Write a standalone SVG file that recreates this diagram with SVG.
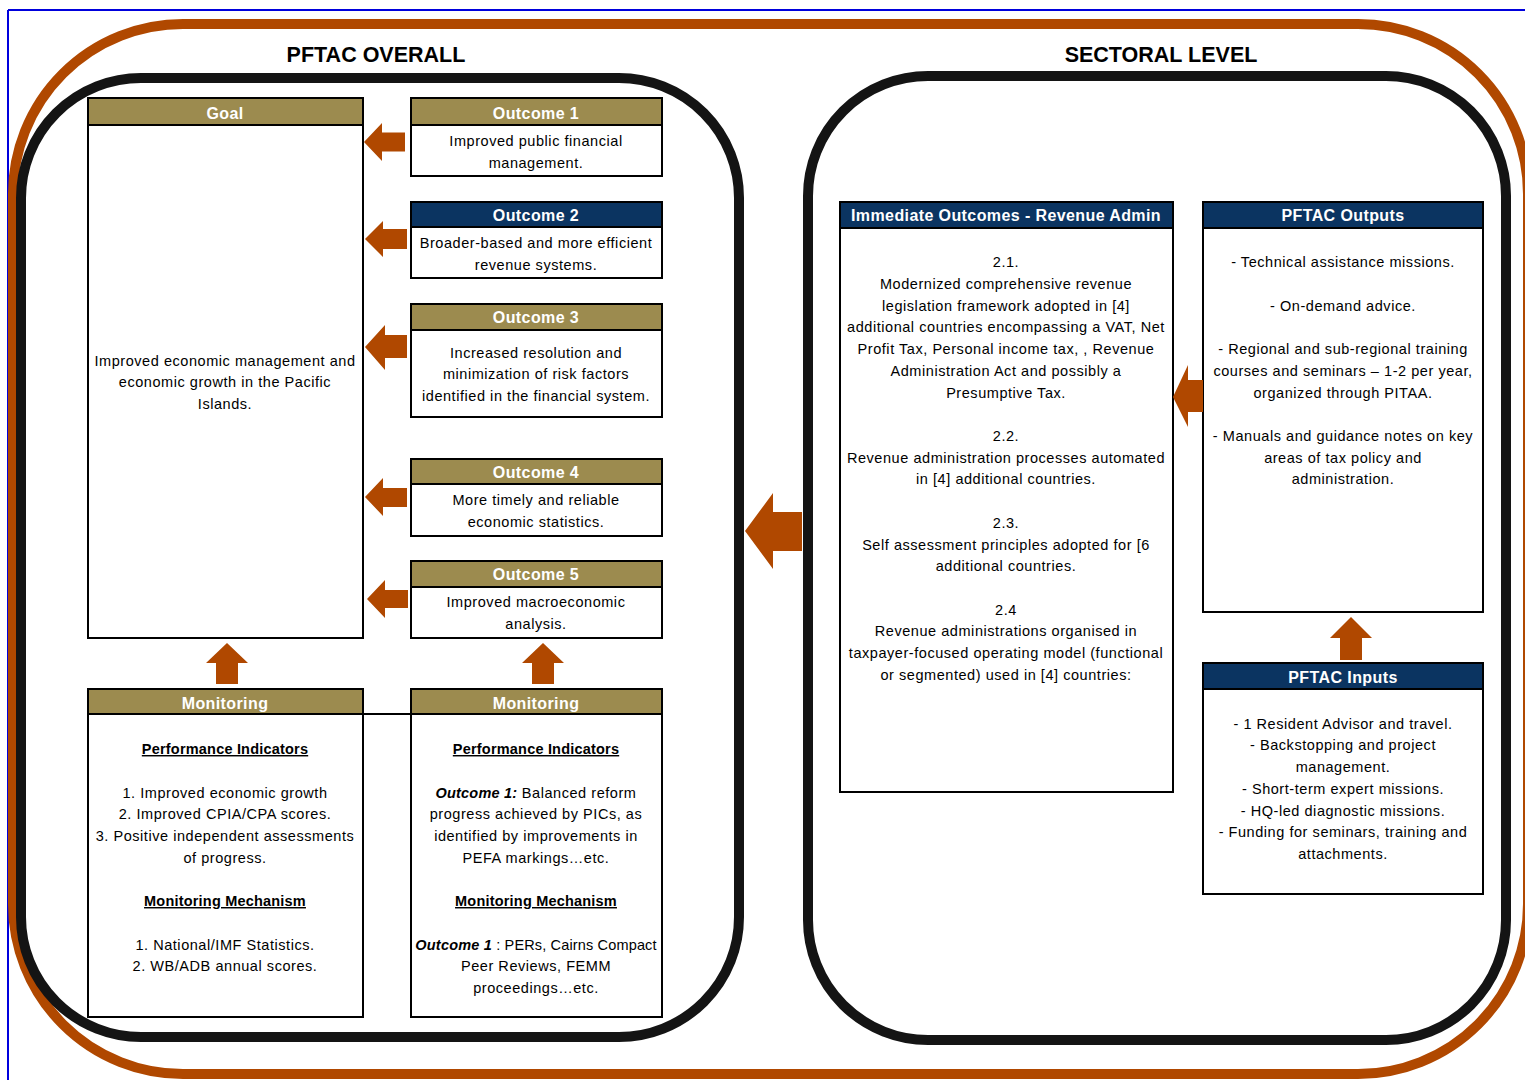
<svg xmlns="http://www.w3.org/2000/svg" width="1525" height="1080" viewBox="0 0 1525 1080">
<style>
.frame{fill:none;stroke:#0000dd;stroke-width:2}
.outer{fill:none;stroke:#b04800;stroke-width:10}
.inner{fill:none;stroke:#141414;stroke-width:10}
.box{fill:#ffffff;stroke:#000;stroke-width:2}
.olive{fill:#9c8b4f;stroke:#000;stroke-width:2}
.navy{fill:#0b3461;stroke:#000;stroke-width:2}
.arrow{fill:#b04800}
.title{font-family:"Liberation Sans",Arial,sans-serif;font-weight:bold;font-size:21.5px;fill:#000;text-anchor:middle}
.hd{font-family:"Liberation Sans",Arial,sans-serif;font-weight:bold;font-size:16px;letter-spacing:0.4px;fill:#fff;text-anchor:middle}
.t{font-family:"Liberation Sans",Arial,sans-serif;font-size:14.5px;letter-spacing:0.55px;fill:#000;text-anchor:middle}
.u{font-weight:bold;text-decoration:underline;letter-spacing:0.2px}
.bi{font-weight:bold;font-style:italic;letter-spacing:0.2px}
.tight{letter-spacing:0.15px}
</style>
<g id="background">
<line class="frame" x1="8" y1="10" x2="1525" y2="10"/>
<line class="frame" x1="8" y1="10" x2="8" y2="1080"/>
<rect class="outer" x="13" y="24" width="1515" height="1050" rx="170" ry="170"/>
<rect class="inner" x="21" y="78" width="718" height="959" rx="120" ry="120"/>
<rect class="inner" x="808" y="76" width="698" height="964" rx="120" ry="120"/>
<text class="title" x="376" y="62">PFTAC OVERALL</text>
<text class="title" x="1161" y="62">SECTORAL LEVEL</text>
</g>
<g id="goal">
<rect class="box" x="88" y="98" width="275" height="540"/>
<rect class="olive" x="88" y="98" width="275" height="27"/>
<text class="hd" x="225" y="119">Goal</text>
<text class="t" x="225" y="366">Improved economic management and</text>
<text class="t" x="225" y="387">economic growth in the Pacific</text>
<text class="t" x="225" y="409">Islands.</text>
</g>
<g id="outcome1">
<rect class="box" x="411" y="98" width="251" height="78"/>
<rect class="olive" x="411" y="98" width="251" height="27"/>
<text class="hd" x="536" y="119">Outcome 1</text>
<text class="t" x="536" y="146">Improved public financial</text>
<text class="t" x="536" y="168">management.</text>
</g>
<g id="outcome2">
<rect class="box" x="411" y="202" width="251" height="76"/>
<rect class="navy" x="411" y="202" width="251" height="25"/>
<text class="hd" x="536" y="221">Outcome 2</text>
<text class="t" x="536" y="248">Broader-based and more efficient</text>
<text class="t" x="536" y="270">revenue systems.</text>
</g>
<g id="outcome3">
<rect class="box" x="411" y="304" width="251" height="113"/>
<rect class="olive" x="411" y="304" width="251" height="26"/>
<text class="hd" x="536" y="323">Outcome 3</text>
<text class="t" x="536" y="358">Increased resolution and</text>
<text class="t" x="536" y="379">minimization of risk factors</text>
<text class="t" x="536" y="401">identified in the financial system.</text>
</g>
<g id="outcome4">
<rect class="box" x="411" y="459" width="251" height="77"/>
<rect class="olive" x="411" y="459" width="251" height="25"/>
<text class="hd" x="536" y="478">Outcome 4</text>
<text class="t" x="536" y="505">More timely and reliable</text>
<text class="t" x="536" y="527">economic statistics.</text>
</g>
<g id="outcome5">
<rect class="box" x="411" y="561" width="251" height="77"/>
<rect class="olive" x="411" y="561" width="251" height="26"/>
<text class="hd" x="536" y="580">Outcome 5</text>
<text class="t" x="536" y="607">Improved macroeconomic</text>
<text class="t" x="536" y="629">analysis.</text>
</g>
<g id="monitoring1">
<rect class="box" x="88" y="689" width="275" height="328"/>
<rect class="olive" x="88" y="689" width="275" height="25"/>
<text class="hd" x="225" y="709">Monitoring</text>
<text class="t u" x="225" y="754">Performance Indicators</text>
<text class="t" x="225" y="798">1. Improved economic growth</text>
<text class="t" x="225" y="819">2. Improved CPIA/CPA scores.</text>
<text class="t" x="225" y="841">3. Positive independent assessments</text>
<text class="t" x="225" y="863">of progress.</text>
<text class="t u" x="225" y="906">Monitoring Mechanism</text>
<text class="t" x="225" y="950">1. National/IMF Statistics.</text>
<text class="t" x="225" y="971">2. WB/ADB annual scores.</text>
</g>
<g id="monitoring2">
<rect class="box" x="411" y="689" width="251" height="328"/>
<rect class="olive" x="411" y="689" width="251" height="25"/>
<text class="hd" x="536" y="709">Monitoring</text>
<text class="t u" x="536" y="754">Performance Indicators</text>
<text class="t" x="536" y="798"><tspan class="bi">Outcome 1:</tspan>  Balanced reform</text>
<text class="t" x="536" y="819">progress achieved by PICs, as</text>
<text class="t" x="536" y="841">identified by improvements in</text>
<text class="t" x="536" y="863">PEFA markings…etc.</text>
<text class="t u" x="536" y="906">Monitoring Mechanism</text>
<text class="t tight" x="536" y="950"><tspan class="bi">Outcome 1</tspan> : PERs, Cairns Compact</text>
<text class="t" x="536" y="971">Peer Reviews, FEMM</text>
<text class="t" x="536" y="993">proceedings…etc.</text>
</g>
<g id="immediate">
<rect class="box" x="840" y="202" width="333" height="590"/>
<rect class="navy" x="840" y="202" width="333" height="26"/>
<text class="hd" x="1006" y="221">Immediate Outcomes - Revenue Admin</text>
<text class="t" x="1006" y="267">2.1.</text>
<text class="t" x="1006" y="289">Modernized comprehensive revenue</text>
<text class="t" x="1006" y="311">legislation framework adopted in [4]</text>
<text class="t" x="1006" y="332">additional countries  encompassing a VAT, Net</text>
<text class="t" x="1006" y="354">Profit Tax, Personal income tax, , Revenue</text>
<text class="t" x="1006" y="376">Administration Act and possibly a</text>
<text class="t" x="1006" y="398">Presumptive Tax.</text>
<text class="t" x="1006" y="441">2.2.</text>
<text class="t" x="1006" y="463">Revenue administration processes automated</text>
<text class="t" x="1006" y="484">in [4] additional countries.</text>
<text class="t" x="1006" y="528">2.3.</text>
<text class="t" x="1006" y="550">Self assessment principles adopted for [6</text>
<text class="t" x="1006" y="571">additional countries.</text>
<text class="t" x="1006" y="615">2.4</text>
<text class="t" x="1006" y="636">Revenue administrations organised in</text>
<text class="t" x="1006" y="658">taxpayer-focused operating model (functional</text>
<text class="t" x="1006" y="680">or segmented) used in [4] countries:</text>
</g>
<g id="outputs">
<rect class="box" x="1203" y="202" width="280" height="410"/>
<rect class="navy" x="1203" y="202" width="280" height="26"/>
<text class="hd" x="1343" y="221">PFTAC Outputs</text>
<text class="t" x="1343" y="267">- Technical assistance missions.</text>
<text class="t" x="1343" y="311">- On-demand advice.</text>
<text class="t" x="1343" y="354">- Regional and sub-regional training</text>
<text class="t" x="1343" y="376">courses and seminars – 1-2 per year,</text>
<text class="t" x="1343" y="398">organized through PITAA.</text>
<text class="t" x="1343" y="441">- Manuals and guidance notes on key</text>
<text class="t" x="1343" y="463">areas of tax policy and</text>
<text class="t" x="1343" y="484">administration.</text>
</g>
<g id="inputs">
<rect class="box" x="1203" y="663" width="280" height="231"/>
<rect class="navy" x="1203" y="663" width="280" height="26"/>
<text class="hd" x="1343" y="683">PFTAC Inputs</text>
<text class="t" x="1343" y="729">- 1 Resident Advisor and travel.</text>
<text class="t" x="1343" y="750">- Backstopping and project</text>
<text class="t" x="1343" y="772">management.</text>
<text class="t" x="1343" y="794">- Short-term expert missions.</text>
<text class="t" x="1343" y="816">- HQ-led diagnostic missions.</text>
<text class="t" x="1343" y="837">- Funding for seminars, training and</text>
<text class="t" x="1343" y="859">attachments.</text>
</g>
<g id="connectors">
<line x1="363" y1="714" x2="411" y2="714" stroke="#000" stroke-width="2"/>
<polygon class="arrow" points="364,142 382,123 382,132.5 405,132.5 405,151.5 382,151.5 382,161"/>
<polygon class="arrow" points="365,239 383,221 383,229 407,229 407,249 383,249 383,257"/>
<polygon class="arrow" points="365,347 385,325 385,335 407,335 407,358 385,358 385,370"/>
<polygon class="arrow" points="365,497 383,478 383,488 407,488 407,507 383,507 383,516"/>
<polygon class="arrow" points="367,599 385,580 385,590 408,590 408,608 385,608 385,618"/>
<polygon class="arrow" points="227,643 248,663 238,663 238,684 216,684 216,663 206,663"/>
<polygon class="arrow" points="543,643 564,663 554,663 554,684 532,684 532,663 522,663"/>
<polygon class="arrow" points="745,531 773,493 773,512 802,512 802,551 773,551 773,569"/>
<polygon class="arrow" points="1173,397 1188,365 1188,380 1203,380 1203,412 1188,412 1188,427"/>
<polygon class="arrow" points="1351,617 1372,638 1362,638 1362,660 1340,660 1340,638 1330,638"/>
</g>
</svg>
